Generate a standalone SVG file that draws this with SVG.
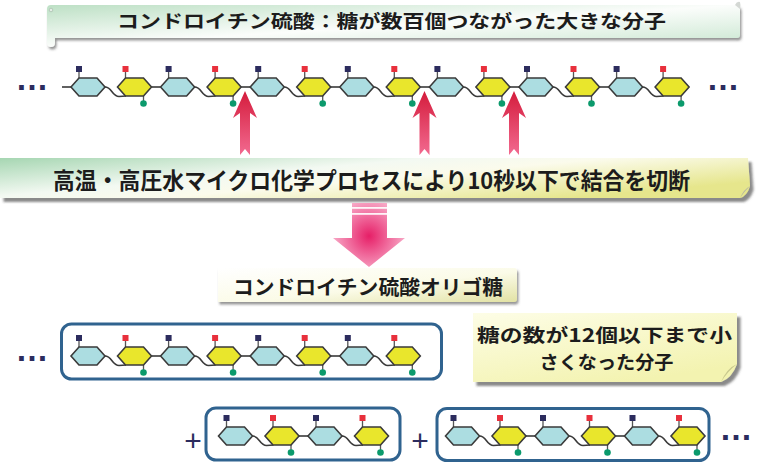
<svg xmlns="http://www.w3.org/2000/svg" xmlns:xlink="http://www.w3.org/1999/xlink" width="758" height="462" viewBox="0 0 758 462">
  <style>
    .jp { font-family: "Noto Sans CJK JP", "Noto Sans", sans-serif; font-weight: 700; fill: #1c1c1c; }
    .dots { font-family: "Liberation Sans", Arial, sans-serif; font-weight: 700; fill: #2c2c5e; font-size: 33px; text-anchor: middle; }
    .plus { font-family: "Liberation Sans", Arial, sans-serif; font-weight: 400; fill: #2c2c5e; font-size: 30px; text-anchor: middle; }
    .hex { stroke: #3a3a3a; stroke-width: 1.6; stroke-linejoin: miter; }
    .blue { fill: #acdde1; }
    .yellow { fill: #e9e62c; }
    .link { fill: none; stroke: #3a3a3a; stroke-width: 1.6; }
    .stem { stroke: #555; stroke-width: 1.3; }
    .frame { fill: #ffffff; stroke: #30638f; stroke-width: 3; }
  </style>
  <defs>
    <filter id="shadow" x="-5%" y="-30%" width="112%" height="180%">
      <feDropShadow dx="1.5" dy="2.5" stdDeviation="1.1" flood-color="#3c3c3c" flood-opacity="0.55"/>
    </filter>
    <filter id="shadow-deep" x="-5%" y="-30%" width="112%" height="180%">
      <feDropShadow dx="3.5" dy="4" stdDeviation="1.2" flood-color="#3c3c3c" flood-opacity="0.6"/>
    </filter>
    <linearGradient id="g-title" x1="0" y1="0" x2="1" y2="1">
      <stop offset="0" stop-color="#bde0c5"/>
      <stop offset="0.5" stop-color="#fbfdfb"/>
      <stop offset="1" stop-color="#c8e6cf"/>
    </linearGradient>
    <linearGradient id="g-process" x1="0" y1="0" x2="1" y2="0.6">
      <stop offset="0" stop-color="#a6d6b2"/>
      <stop offset="0.42" stop-color="#f3f9f2"/>
      <stop offset="0.6" stop-color="#fbfbec"/>
      <stop offset="1" stop-color="#e6e68c"/>
    </linearGradient>
    <linearGradient id="g-label" x1="0" y1="0" x2="1" y2="1">
      <stop offset="0" stop-color="#ffffff"/>
      <stop offset="0.55" stop-color="#fbfbe8"/>
      <stop offset="1" stop-color="#e2e2a4"/>
    </linearGradient>
    <linearGradient id="g-note" x1="0" y1="0" x2="0.6" y2="1">
      <stop offset="0" stop-color="#fdfde6"/>
      <stop offset="1" stop-color="#f3f3b0"/>
    </linearGradient>
    <linearGradient id="g-cut" x1="0" y1="0" x2="0" y2="1">
      <stop offset="0" stop-color="#d41c3c"/>
      <stop offset="1" stop-color="#f26a90"/>
    </linearGradient>
    <radialGradient id="g-flow" gradientUnits="userSpaceOnUse" cx="369" cy="236" r="44">
      <stop offset="0" stop-color="#e61f67"/>
      <stop offset="0.45" stop-color="#f06a9c"/>
      <stop offset="1" stop-color="#fbc6da"/>
    </radialGradient>

    <!-- sugar units drawn about their own centre -->
    <polygon id="hexagon" points="-17,0 -9,-9 9,-9 17,0 9,9 -9,9"/>
    <g id="unit-b">
      <line class="stem" x1="-9" y1="-15" x2="-9" y2="-9"/>
      <rect x="-12" y="-21" width="6" height="6" fill="#2c2c5e"/>
      <use xlink:href="#hexagon" class="hex blue"/>
    </g>
    <g id="unit-y">
      <line class="stem" x1="-9" y1="-15" x2="-9" y2="-9"/>
      <line class="stem" x1="9" y1="9" x2="9" y2="14"/>
      <rect x="-12" y="-21" width="6" height="6" fill="#e8303c"/>
      <circle cx="9" cy="16.5" r="3.3" fill="#0b9a6c"/>
      <use xlink:href="#hexagon" class="hex yellow"/>
    </g>
    <!-- a blue unit joined to its yellow partner, plus the bond to the next blue -->
    <g id="pair">
      <path class="link" d="M17,0 C24,0 24,9.5 31,9.5 L38,9"/>
      <use xlink:href="#unit-b"/>
      <use xlink:href="#unit-y" x="46.5"/>
    </g>
    <line id="bond" class="link" x1="63.5" y1="0" x2="72.6" y2="0"/>
  </defs>

  <rect width="758" height="462" fill="#ffffff"/>

  <!-- title banner -->
  <g id="title-banner">
    <path d="M47,9 Q47,5 51,5 H736 Q740,5 740,9 V35 Q740,38 737,38 H55 V43 Q55,47 51,47 Q47,47 47,43 Z" fill="url(#g-title)" filter="url(#shadow)"/>
    <circle cx="51" cy="10" r="1.8" fill="#e4eee6" stroke="#9fb3a4" stroke-width="0.6"/>
    <path d="M735,5 Q737,1 740,2 Q741,5 740,9 Z" fill="#d4d8d4"/>
    <text class="jp" x="391.5" y="28.2" font-size="18.5" text-anchor="middle" textLength="549" lengthAdjust="spacingAndGlyphs">コンドロイチン硫酸：糖が数百個つながった大きな分子</text>
  </g>

  <!-- chondroitin sulfate chain -->
  <g id="main-chain" transform="translate(0,87)">
    <text class="dots" x="32" y="3.3">…</text>
    <line class="link" x1="62" y1="0" x2="71" y2="0"/>
    <g transform="translate(88,0)"><use xlink:href="#pair"/><use xlink:href="#bond"/></g>
    <g transform="translate(177.6,0)"><use xlink:href="#pair"/><use xlink:href="#bond"/></g>
    <g transform="translate(267.2,0)"><use xlink:href="#pair"/><use xlink:href="#bond"/></g>
    <g transform="translate(356.8,0)"><use xlink:href="#pair"/><use xlink:href="#bond"/></g>
    <g transform="translate(446.4,0)"><use xlink:href="#pair"/><use xlink:href="#bond"/></g>
    <g transform="translate(536,0)"><use xlink:href="#pair"/><use xlink:href="#bond"/></g>
    <g transform="translate(625.6,0)"><use xlink:href="#pair"/></g>
    <text class="dots" x="723" y="3.3">…</text>
  </g>

  <!-- cleavage arrows -->
  <g id="cleavage-arrows" fill="url(#g-cut)">
    <path d="M245,91 L257,118 L250,113 L250,155 L245,149 L240,155 L240,113 L233,118 Z"/>
    <path d="M424.5,91 L436.5,118 L429.5,113 L429.5,155 L424.5,149 L419.5,155 L419.5,113 L412.5,118 Z"/>
    <path d="M514,91 L526,118 L519,113 L519,155 L514,149 L509,155 L509,113 L502,118 Z"/>
  </g>

  <!-- process banner -->
  <g id="process-banner">
    <path d="M0,158 H748 L750,186 Q747,196 740,198 H0 Z" fill="url(#g-process)" filter="url(#shadow-deep)"/>
    <path d="M750,186 Q744,189 740,198 Q744,192 750,186 Z" fill="#b8b8a0"/>
    <text class="jp" x="371.5" y="189.2" font-size="23" text-anchor="middle" textLength="637" lengthAdjust="spacingAndGlyphs">高温・高圧水マイクロ化学プロセスにより10秒以下で結合を切断</text>
  </g>

  <!-- flow arrow -->
  <g id="flow-arrow">
    <path d="M352,203 H387 V238 H405 L369,267 L333,238 H352 Z" fill="url(#g-flow)"/>
    <rect x="352" y="207" width="35" height="1.8" fill="#ffffff" opacity="0.9"/>
    <rect x="352" y="213" width="35" height="1.8" fill="#ffffff" opacity="0.9"/>
  </g>

  <!-- oligosaccharide label -->
  <g id="oligo-label">
    <path d="M218,268 H514 Q517,268 517,271 V299 Q517,302 514,302 H218 Z" fill="url(#g-label)" filter="url(#shadow)"/>
    <text class="jp" x="368" y="294.5" font-size="20.5" text-anchor="middle" textLength="270" lengthAdjust="spacingAndGlyphs">コンドロイチン硫酸オリゴ糖</text>
  </g>

  <!-- oligosaccharide fragments -->
  <g id="oligo-chain-1">
    <text class="dots" x="32" y="361.3">…</text>
    <rect class="frame" x="61.5" y="324" width="380" height="55" rx="10"/>
    <g transform="translate(0,356)">
      <g transform="translate(88,0)"><use xlink:href="#pair"/><use xlink:href="#bond"/></g>
      <g transform="translate(177.6,0)"><use xlink:href="#pair"/><use xlink:href="#bond"/></g>
      <g transform="translate(267.2,0)"><use xlink:href="#pair"/><use xlink:href="#bond"/></g>
      <g transform="translate(356.8,0)"><use xlink:href="#pair"/></g>
    </g>
  </g>

  <g id="oligo-chain-2">
    <text class="plus" x="193" y="450.5">+</text>
    <rect class="frame" x="206" y="408" width="194" height="52" rx="10"/>
    <g transform="translate(0,436)">
      <g transform="translate(235.5,0)"><use xlink:href="#pair"/><use xlink:href="#bond"/></g>
      <g transform="translate(325,0)"><use xlink:href="#pair"/></g>
    </g>
  </g>

  <g id="oligo-chain-3">
    <text class="plus" x="420" y="450.5">+</text>
    <rect class="frame" x="437" y="408.5" width="272" height="52" rx="10"/>
    <g transform="translate(0,436)">
      <g transform="translate(462.5,0)"><use xlink:href="#pair"/><use xlink:href="#bond"/></g>
      <g transform="translate(552,0)"><use xlink:href="#pair"/><use xlink:href="#bond"/></g>
      <g transform="translate(641.5,0)"><use xlink:href="#pair"/></g>
    </g>
    <text class="dots" x="736" y="440.3">…</text>
  </g>

  <!-- note, wrapped over two lines -->
  <g id="note">
    <path d="M473,313 H737 V364 Q732,378 721,382 H473 Z" fill="url(#g-note)" filter="url(#shadow-deep)"/>
    <path d="M737,364 Q727,368 721,382 Q728,371 737,364 Z" fill="#c9c98e"/>
    <text class="jp" x="604.5" y="341.5" font-size="18.5" text-anchor="middle" textLength="255" lengthAdjust="spacingAndGlyphs">糖の数が12個以下まで小</text>
    <text class="jp" x="606.5" y="369" font-size="18.5" text-anchor="middle" textLength="134" lengthAdjust="spacingAndGlyphs">さくなった分子</text>
  </g>
</svg>
